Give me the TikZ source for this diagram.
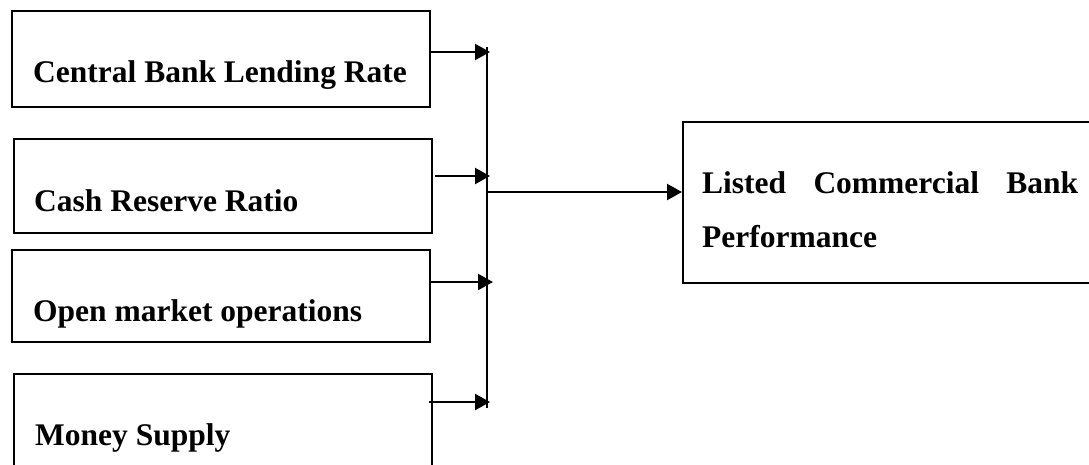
\documentclass[tikz,border=0pt]{standalone}
\usepackage{fontspec}
\setmainfont{Liberation Serif}
\usetikzlibrary{arrows.meta}
\tikzset{
  box/.style={draw, line width=2.2pt, inner sep=0pt, anchor=north west},
  lbl/.style={anchor=base west, inner sep=0pt, font=\fontsize{31.5}{38}\selectfont\bfseries},
  conn/.style={line width=2.2pt},
  arr/.style={line width=2.2pt, -{Triangle[length=15pt,width=16pt]}}
}
\begin{document}
\begin{tikzpicture}[x=1pt,y=-1pt]
\useasboundingbox (0,0) rectangle (1089,464);
% left boxes
\node[box, minimum width=418.5pt, minimum height=96pt] (b1) at (10.5,10) {};
\node[box, minimum width=418pt, minimum height=94pt] (b2) at (13,138) {};
\node[box, minimum width=418pt, minimum height=92pt] (b3) at (11,249) {};
\node[box, minimum width=418pt, minimum height=110pt] (b4) at (13,373) {};
% right box
\node[box, minimum width=430pt, minimum height=161pt] (r) at (682,121) {};
% labels
\node[lbl] (t1) at (33,82) {Central Bank Lending Rate};
\node[lbl] (t2) at (34,211) {Cash Reserve Ratio};
\node[lbl] (t3) at (33,321) {Open market operations};
\node[lbl] (t4) at (35,445) {Money Supply};
\node[lbl] (t5) at (702,193) {\hbox to 376pt{Listed\hfill Commercial\hfill Bank}};
\node[lbl] (t6) at (702,247) {Performance};
% bus coordinates
\coordinate (j1) at (490,52);
\coordinate (j2) at (490,176);
\coordinate (j3) at (493,282);
\coordinate (j4) at (490,402);
\coordinate (btop) at (487,47);
\coordinate (bbot) at (487,408);
\coordinate (bmid) at (487,192);
% connectors
\draw[arr] ([xshift=-2pt]b1.east |- j1) -- (j1);
\draw[arr] ([xshift=2pt]b2.east |- j2) -- (j2);
\draw[arr] (b3.east |- j3) -- (j3);
\draw[arr] ([xshift=-4pt]b4.east |- j4) -- (j4);
\draw[conn] (btop) -- (bbot);
\draw[arr] (bmid) -- (r.west |- bmid);
\end{tikzpicture}
\end{document}
